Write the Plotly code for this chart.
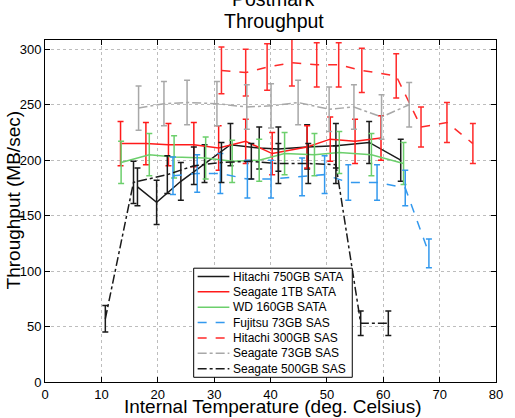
import plotly.graph_objects as go

x_hitachi750 = [16.4, 19.8, 24.1, 28.3, 32.9, 38.0, 41.4, 46.5, 51.6, 57.5, 63.1]
y_hitachi750 = [176, 162, 181, 197, 214, 211, 210, 212, 213, 216, 200]
e_hitachi750 = [17, 20, 17, 17, 19, 19, 20, 20, 20, 19, 19]

x_seagate1tb = [13.4, 17.9, 21.9, 26.4, 30.8, 35.6, 40.3, 46.5, 50.6, 55.0, 59.6]
y_seagate1tb = [215, 215, 214, 214, 211, 217, 206, 212, 219, 217, 220]
e_seagate1tb = [20, 19, 19, 20, 20, 20, 19, 19, 20, 20, 20]

x_wd160 = [13.5, 18.5, 22.9, 28.5, 33.2, 38.0, 42.5, 47.8, 52.2, 57.9, 63.6]
y_wd160 = [198, 205, 203, 202, 199, 200, 206, 205, 207, 205, 197]
e_wd160 = [19, 19, 19, 19, 19, 19, 19, 19, 19, 19, 19]

x_fujitsu73 = [22.7, 27.0, 31.1, 35.9, 40.1, 45.6, 49.6, 53.8, 58.9, 63.9, 68.1]
y_fujitsu73 = [186, 188, 188, 183, 183, 185, 187, 180, 180, 175, 116]
e_fujitsu73 = [17, 17, 18, 17, 17, 17, 17, 16, 16, 16, 13]

x_hitachi300 = [31.3, 35.6, 39.4, 43.8, 48.2, 52.1, 56.2, 62.3, 66.7, 71.3, 75.9]
y_hitachi300 = [281, 279, 284, 288, 286, 286, 281, 276, 230, 234, 215]
e_hitachi300 = [21, 21, 21, 21, 20, 20, 20, 20, 18, 18, 18]

x_seagate73 = [16.6, 21.1, 25.2, 30.5, 35.8, 40.1, 44.9, 50.4, 54.8, 59.7, 64.6]
y_seagate73 = [247, 251, 252, 251, 248, 249, 252, 246, 248, 239, 250]
e_seagate73 = [20, 20, 20, 20, 20, 20, 20, 20, 20, 20, 20]

x_seagate500 = [10.7, 15.7, 21.7, 26.4, 31.3, 36.6, 41.4, 46.7, 51.6, 56.0, 60.9]
y_seagate500 = [57, 180, 187, 195, 198, 199, 197, 197, 196, 53, 53]
e_seagate500 = [12, 19, 17, 17, 18, 16, 18, 18, 17, 11, 11]

x_ticks = [0, 10, 20, 30, 40, 50, 60, 70, 80]
y_ticks = [0, 50, 100, 150, 200, 250, 300]

series = [
    ("Hitachi 750GB SATA", x_hitachi750, y_hitachi750, e_hitachi750, "#1a1a1a", "solid"),
    ("Seagate 1TB SATA", x_seagate1tb, y_seagate1tb, e_seagate1tb, "#ff1a1a", "solid"),
    ("WD 160GB SATA", x_wd160, y_wd160, e_wd160, "#6ccf6c", "solid"),
    ("Fujitsu 73GB SAS", x_fujitsu73, y_fujitsu73, e_fujitsu73, "#3399ee", "dash"),
    ("Hitachi 300GB SAS", x_hitachi300, y_hitachi300, e_hitachi300, "#ff2a2a", "dash"),
    ("Seagate 73GB SAS", x_seagate73, y_seagate73, e_seagate73, "#a8a8a8", "dashdot"),
    ("Seagate 500GB SAS", x_seagate500, y_seagate500, e_seagate500, "#1a1a1a", "dashdot"),
]

FONT = "Liberation Sans, Arial, Helvetica, sans-serif"
W, H = 515, 418
L, R, T, B = 45, 15, 40, 36.3
pw = W - L - R
ph = H - T - B

def px(p):
    return (p - L) / pw

def py(p):
    return (H - B - p) / ph

fig = go.Figure()
for name, xs, ys, es, col, dash in series:
    fig.add_trace(go.Scatter(
        x=xs, y=ys, name=name, mode="lines", showlegend=False,
        line=dict(color=col, width=1.5, dash=dash),
        error_y=dict(type="data", array=es, visible=True, color=col, thickness=1.5, width=3),
    ))

# manual legend (compact rows as in the reference)
shapes = [dict(type="rect", xref="paper", yref="paper",
               x0=px(195), x1=px(355), y0=py(377), y1=py(268),
               line=dict(color="black", width=1), fillcolor="white", layer="above")]
annotations = []
row0, gap = 276.3, 15.35
for i, (name, xs, ys, es, col, dash) in enumerate(series):
    yy = row0 + i * gap
    shapes.append(dict(type="line", xref="paper", yref="paper",
                       x0=px(199), x1=px(231), y0=py(yy), y1=py(yy),
                       line=dict(color=col, width=1.5, dash=dash), layer="above"))
    annotations.append(dict(text=name, x=px(233), y=py(yy), xref="paper", yref="paper",
                            xanchor="left", yanchor="middle", showarrow=False,
                            font=dict(family=FONT, size=12, color="black")))

axis_common = dict(
    showline=True, linecolor="black", linewidth=1, mirror="ticks",
    ticks="inside", ticklen=5, tickcolor="black",
    showgrid=True, gridcolor="#bdbdbd", griddash="dot", gridwidth=1,
    zeroline=False, tickfont=dict(family=FONT, size=13, color="black"),
)

annotations += [
    dict(text="Throughput", x=0.5, y=py(21), xref="paper", yref="paper",
         xanchor="center", yanchor="middle", showarrow=False, xshift=3,
         font=dict(family=FONT, size=19.5, color="black")),
    dict(text="Postmark", x=0.5, y=py(-1), xref="paper", yref="paper",
         xanchor="center", yanchor="middle", showarrow=False, xshift=3,
         font=dict(family=FONT, size=19.5, color="black")),
    dict(text="Internal Temperature (deg. Celsius)", x=0.5, y=py(406.5), xref="paper", yref="paper",
         xanchor="center", yanchor="middle", showarrow=False, xshift=2,
         font=dict(family=FONT, size=19, color="black")),
    dict(text="Throughput (MB/sec)", x=px(13), y=py(200), xref="paper", yref="paper",
         xanchor="center", yanchor="middle", showarrow=False, textangle=-90,
         font=dict(family=FONT, size=19, color="black")),
]

fig.update_layout(
    width=W, height=H, margin=dict(l=L, r=R, t=T, b=B, pad=0),
    paper_bgcolor="white", plot_bgcolor="white",
    font=dict(family=FONT, color="black"),
    xaxis=dict(range=[0, 80], tickvals=x_ticks, **axis_common),
    yaxis=dict(range=[0, 308.4], tickvals=y_ticks, **axis_common),
    showlegend=False,
    shapes=shapes,
    annotations=annotations,
)

fig.write_html("out.html")
